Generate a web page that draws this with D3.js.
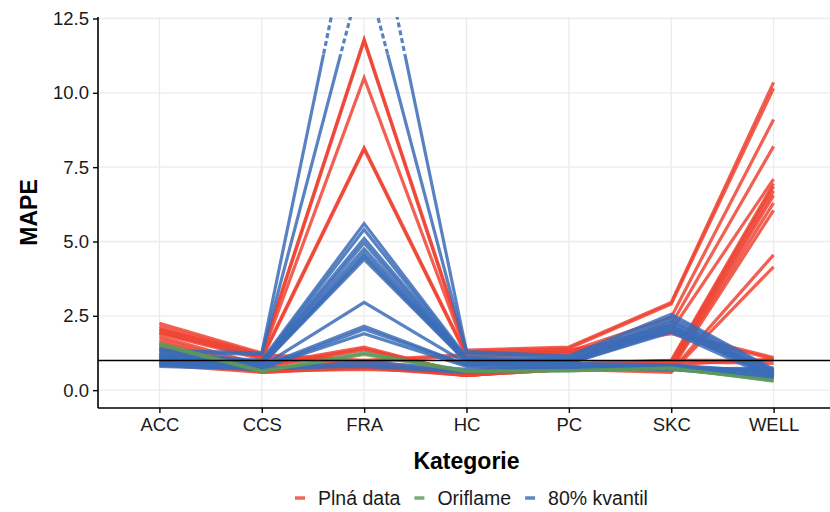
<!DOCTYPE html>
<html>
<head>
<meta charset="utf-8">
<script src="https://cdn.jsdelivr.net/npm/d3@7"></script>
<style>
  html, body { margin: 0; padding: 0; background: #fff; }
  svg { display: block; font-family: "Liberation Sans", Arial, sans-serif; }
</style>
</head>
<body>
<svg id="chart" width="830" height="512"></svg>
<script>
// Categories on the x axis
const categories = ["ACC", "CCS", "FRA", "HC", "PC", "SKC", "WELL"];

// MAPE per category, one row per model (order follows categories)
const plnaData = [
  [2.25, 1.25, 11.8, 1.35, 1.45, 2.95, 10.35],
  [2.15, 1.20, 11.75, 1.30, 1.40, 2.90, 10.15],
  [2.05, 1.15, 10.5, 1.25, 1.30, 2.45, 9.10],
  [1.95, 1.10, 8.15, 1.20, 1.25, 2.20, 8.20],
  [1.90, 1.05, 8.10, 1.15, 1.20, 2.00, 7.10],
  [1.80, 0.85, 1.45, 0.55, 0.90, 1.00, 6.95],
  [1.70, 0.80, 1.40, 0.55, 0.85, 0.95, 6.85],
  [1.60, 0.75, 1.35, 0.60, 0.80, 0.85, 6.70],
  [1.50, 0.70, 1.00, 0.55, 0.80, 0.80, 6.55],
  [1.45, 0.70, 0.95, 0.50, 0.75, 0.75, 6.30],
  [1.40, 0.65, 0.90, 0.50, 0.70, 0.70, 6.05],
  [1.35, 0.65, 0.85, 0.50, 0.75, 0.65, 4.55],
  [1.20, 0.60, 0.80, 0.50, 0.70, 0.60, 4.15],
  [2.05, 1.20, 1.00, 1.20, 1.35, 1.90, 1.05],
  [1.95, 1.10, 0.95, 1.15, 1.30, 1.95, 1.10],
  [1.10, 0.75, 0.75, 0.65, 0.85, 1.00, 1.00],
  [0.95, 0.65, 0.70, 0.60, 0.80, 0.95, 0.90],
  [0.85, 0.60, 0.75, 0.50, 0.70, 0.85, 1.05]
];

const oriflame = [
  [1.58, 0.65, 1.25, 0.65, 0.65, 0.75, 0.30],
  [1.52, 0.62, 1.20, 0.62, 0.66, 0.72, 0.33]
];

const kvantil80 = [
  [1.35, 1.25, 17.9, 1.30, 1.15, 2.55, 0.70],
  [1.30, 1.20, 14.3, 1.25, 1.10, 2.45, 0.65],
  [1.25, 1.00, 5.60, 1.10, 1.05, 2.35, 0.60],
  [1.20, 0.95, 5.40, 1.05, 1.00, 2.30, 0.55],
  [1.20, 0.95, 5.10, 1.05, 1.00, 2.20, 0.50],
  [1.15, 0.90, 4.95, 1.00, 1.00, 2.15, 0.60],
  [1.10, 0.90, 4.75, 1.00, 0.95, 2.10, 0.45],
  [1.10, 0.85, 4.60, 1.00, 0.95, 2.05, 0.50],
  [1.05, 0.85, 4.50, 0.95, 0.90, 2.00, 0.55],
  [1.00, 0.85, 4.40, 0.95, 0.90, 1.95, 0.40],
  [1.00, 0.80, 2.95, 0.90, 0.90, 0.85, 0.60],
  [0.95, 0.80, 2.15, 0.85, 0.85, 0.80, 0.65],
  [0.90, 0.75, 2.05, 0.85, 0.85, 0.80, 0.55],
  [0.90, 0.75, 1.90, 0.80, 0.80, 0.75, 0.50],
  [0.85, 0.70, 0.95, 0.70, 0.80, 0.70, 0.45],
  [0.80, 0.70, 0.85, 0.65, 0.75, 0.70, 0.40],
  [1.40, 0.75, 0.80, 0.60, 0.75, 0.70, 0.75]
];

const seriesNames = ["Plná data", "Oriflame", "80% kvantil"];
const seriesColors = ["#ef4434", "#5b9a5b", "#3b6cb7"];
const yTicks = [0, 2.5, 5, 7.5, 10, 12.5];
const referenceLevel = 1;      // horizontal reference line
const breakFrom = 11.3;        // values above this are drawn dashed when they leave the panel

const svg = d3.select("#chart");
const margin = { left: 98, right: -5, top: 17, bottom: 104 };
const W = 830, H = 512;
const x0 = margin.left, x1 = W - margin.right;
const y0 = H - margin.bottom, y1 = margin.top;

const x = d3.scalePoint().domain(categories).range([x0, x1]).padding(0.6);
const y = d3.scaleLinear().domain([-0.6, 12.55]).range([y0, y1]);
const yMax = y.domain()[1];

const defs = svg.append("defs");
defs.append("clipPath").attr("id", "clip-panel")
  .append("rect").attr("x", x0).attr("y", y1).attr("width", x1 - x0).attr("height", y0 - y1);
defs.append("clipPath").attr("id", "clip-solid")
  .append("rect").attr("x", x0).attr("y", y(breakFrom)).attr("width", x1 - x0).attr("height", y0 - y(breakFrom));
defs.append("clipPath").attr("id", "clip-dashed")
  .append("rect").attr("x", x0).attr("y", y1).attr("width", x1 - x0).attr("height", y(breakFrom) - y1);

// grid
const grid = svg.append("g").attr("stroke", "#ebebeb").attr("stroke-width", 1.3);
grid.selectAll("line.h").data(yTicks).join("line")
  .attr("x1", x0).attr("x2", x1).attr("y1", d => y(d)).attr("y2", d => y(d));
grid.selectAll("line.v").data(categories).join("line")
  .attr("x1", d => x(d)).attr("x2", d => x(d)).attr("y1", y1).attr("y2", y0);

const line = d3.line().x((d, i) => x(categories[i])).y(d => y(d));

function drawSeries(rows, color) {
  const g = svg.append("g")
    .attr("fill", "none").attr("stroke", color)
    .attr("stroke-width", 3.2).attr("stroke-opacity", 0.85)
    .attr("stroke-linejoin", "miter");
  rows.forEach(r => {
    if (d3.max(r) > yMax) {
      g.append("path").attr("d", line(r)).attr("clip-path", "url(#clip-solid)");
      g.append("path").attr("d", line(r)).attr("clip-path", "url(#clip-dashed)")
        .attr("stroke-dasharray", "5,3");
    } else {
      g.append("path").attr("d", line(r)).attr("clip-path", "url(#clip-panel)");
    }
  });
}

drawSeries(plnaData, seriesColors[0]);
drawSeries(kvantil80, seriesColors[2]);
drawSeries(oriflame, seriesColors[1]);

// reference line
svg.append("line")
  .attr("x1", x0).attr("x2", x1)
  .attr("y1", y(referenceLevel)).attr("y2", y(referenceLevel))
  .attr("stroke", "#000").attr("stroke-width", 1.6);

// axes
const yAxis = svg.append("g").attr("transform", `translate(${x0},0)`)
  .call(d3.axisLeft(y).tickValues(yTicks).tickFormat(d3.format(".1f")).tickSizeOuter(0).tickSize(5).tickPadding(4));
const xAxis = svg.append("g").attr("transform", `translate(0,${y0})`)
  .call(d3.axisBottom(x).tickSizeOuter(0).tickSize(5).tickPadding(5));
[yAxis, xAxis].forEach(a => {
  a.select(".domain").attr("stroke", "#000").attr("stroke-width", 1.6);
  a.selectAll(".tick line").attr("stroke", "#000").attr("stroke-width", 1.4);
  a.selectAll(".tick text").attr("fill", "#1a1a1a").attr("font-size", 18.5)
    .attr("font-family", "'Liberation Sans', Arial, sans-serif");
});
yAxis.select(".domain").attr("d", `M0,${y0}V${y1}`);
xAxis.select(".domain").attr("d", `M${x0},0H${x1}`);

// axis titles
svg.append("text")
  .attr("x", (x0 + x1) / 2).attr("y", 469)
  .attr("text-anchor", "middle").attr("font-size", 23).attr("font-weight", "bold")
  .text("Kategorie");
svg.append("text")
  .attr("transform", `translate(37,${(y0 + y1) / 2}) rotate(-90)`)
  .attr("text-anchor", "middle").attr("font-size", 23).attr("font-weight", "bold")
  .text("MAPE");

// legend
const legend = svg.append("g").attr("transform", "translate(0,498)");
let lx = 295;
seriesNames.forEach((name, i) => {
  const item = legend.append("g").attr("transform", `translate(${lx},0)`);
  item.append("line").attr("x1", 0).attr("x2", 10).attr("y1", 0).attr("y2", 0)
    .attr("stroke", seriesColors[i]).attr("stroke-opacity", 0.82).attr("stroke-width", 3.5);
  const t = item.append("text").attr("x", 23).attr("y", 0).attr("dy", "0.35em")
    .attr("font-size", 19.5).attr("fill", "#1a1a1a").text(name);
  lx += 23 + t.node().getComputedTextLength() + 14;
});
</script>
</body>
</html>
